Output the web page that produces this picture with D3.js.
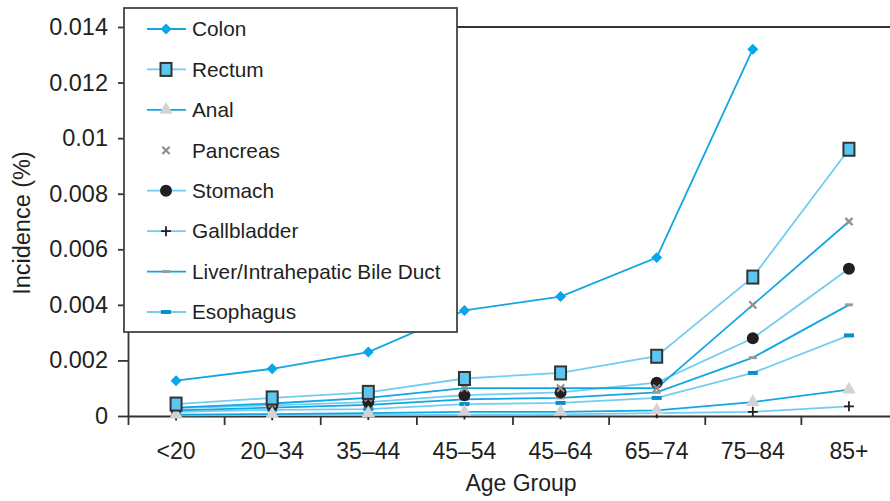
<!DOCTYPE html>
<html>
<head>
<meta charset="utf-8">
<script src="https://cdn.jsdelivr.net/npm/d3@7"></script>
<style>
  html, body { margin: 0; padding: 0; background: #fff; }
  svg { display: block; }
  text { font-family: "Liberation Sans", Arial, Helvetica, sans-serif; fill: #231f20; }
</style>
</head>
<body>
<svg id="chart" width="890" height="501"></svg>
<script>
// ---- data ----
const categories = ["<20", "20–34", "35–44", "45–54", "45–64", "65–74", "75–84", "85+"];
const yTickValues = [0, 0.002, 0.004, 0.006, 0.008, 0.01, 0.012, 0.014];
const yTickLabels = ["0", "0.002", "0.004", "0.006", "0.008", "0.01", "0.012", "0.014"];
const seriesNames = ["Colon", "Rectum", "Anal", "Pancreas", "Stomach", "Gallbladder", "Liver/Intrahepatic Bile Duct", "Esophagus"];
const colon       = [0.00127, 0.0017, 0.0023, 0.0038, 0.0043, 0.0057, 0.0132, null];
const rectum      = [0.00043, 0.00065, 0.00085, 0.00135, 0.00155, 0.00215, 0.0050, 0.0096];
const anal        = [0.00005, 0.00007, 0.0001, 0.00015, 0.00015, 0.0002, 0.0005, 0.00095];
const pancreas    = [0.0003, 0.00045, 0.00065, 0.001, 0.001, 0.001, 0.004, 0.007];
const stomach     = [0.00028, 0.00038, 0.0005, 0.00075, 0.00085, 0.0012, 0.0028, 0.0053];
const gallbladder = [0.00002, 0.00003, 0.00004, 0.00005, 0.00006, 0.0001, 0.00015, 0.00035];
const liver       = [0.0002, 0.0003, 0.0004, 0.0006, 0.00065, 0.00085, 0.0021, 0.004];
const esophagus   = [0.00015, 0.00022, 0.00025, 0.00043, 0.00047, 0.00065, 0.00155, 0.0029];
const xTitle = "Age Group";
const yTitle = "Incidence (%)";

// ---- styles ----
const STRONG = "#12a6e4", LIGHT = "#72cdf2";
const series = [
  { name: seriesNames[0], values: colon,       line: STRONG, marker: "diamond",  legendLine: true },
  { name: seriesNames[1], values: rectum,      line: LIGHT,  marker: "square",   legendLine: true },
  { name: seriesNames[2], values: anal,        line: STRONG, marker: "triangle", legendLine: true },
  { name: seriesNames[3], values: pancreas,    line: STRONG, marker: "x",        legendLine: false },
  { name: seriesNames[4], values: stomach,     line: LIGHT,  marker: "circle",   legendLine: true },
  { name: seriesNames[5], values: gallbladder, line: LIGHT,  marker: "plus",     legendLine: true },
  { name: seriesNames[6], values: liver,       line: STRONG, marker: "greydash", legendLine: true },
  { name: seriesNames[7], values: esophagus,   line: LIGHT,  marker: "bluedash", legendLine: true }
];

const svg = d3.select("#chart");
const pLeft = 128, pRight = 897, pTop = 27, pBottom = 416;

const x = d3.scaleBand().domain(categories).range([pLeft, pRight]);
const xb = d3.scaleLinear().domain([0, categories.length]).range([pLeft, pRight]);
const y = d3.scaleLinear().domain([0, 0.014]).range([pBottom, pTop]);

// top frame line
svg.append("line").attr("x1", pLeft).attr("x2", 890).attr("y1", y(0.014)).attr("y2", y(0.014))
  .attr("stroke", "#333").attr("stroke-width", 2);

// y axis
const yAxis = svg.append("g").attr("transform", `translate(${pLeft},0)`)
  .call(d3.axisLeft(y).tickValues(yTickValues).tickFormat((d, i) => yTickLabels[i]).tickSize(10).tickSizeOuter(0).tickPadding(10));
yAxis.selectAll("path, line").attr("stroke", "#333").attr("stroke-width", 1.8);
yAxis.selectAll("text").style("font-size", "23.5px").attr("fill", "#231f20");

// x axis boundary ticks
const xTicks = svg.append("g").attr("transform", `translate(0,${pBottom})`)
  .call(d3.axisBottom(xb).tickValues(d3.range(0, categories.length + 1)).tickFormat("").tickSize(9).tickSizeOuter(0));
xTicks.selectAll("path, line").attr("stroke", "#333").attr("stroke-width", 1.8);
// x labels
const xLab = svg.append("g").attr("transform", `translate(0,${pBottom})`)
  .call(d3.axisBottom(x).tickSize(0).tickPadding(27));
xLab.select("path").remove();
xLab.selectAll("text").style("font-size", "23px").attr("fill", "#231f20");

// axis titles
svg.append("text").attr("x", (pLeft + 890) / 2 + 12).attr("y", 491).attr("text-anchor", "middle")
  .style("font-size", "23px").text(xTitle);
svg.append("text").attr("transform", "translate(30,223) rotate(-90)").attr("text-anchor", "middle")
  .style("font-size", "23.5px").text(yTitle);

// markers
function drawMarker(g, type, cx, cy) {
  switch (type) {
    case "diamond":
      g.append("path").attr("d", d3.symbol(d3.symbolSquare, 60)())
        .attr("transform", `translate(${cx},${cy}) rotate(45)`).attr("fill", "#05a7ea"); break;
    case "square":
      g.append("rect").attr("x", cx - 5.5).attr("y", cy - 6.5).attr("width", 11).attr("height", 13)
        .attr("fill", "#5cc6f0").attr("stroke", "#333").attr("stroke-width", 2); break;
    case "triangle":
      g.append("path").attr("d", d3.symbol(d3.symbolTriangle, 80)())
        .attr("transform", `translate(${cx},${cy})`).attr("fill", "#d2d3d5"); break;
    case "x":
      g.append("path").attr("d", d3.symbol(d3.symbolX, 36)())
        .attr("transform", `translate(${cx},${cy})`).attr("stroke", "#8f8f8f").attr("stroke-width", 2.2).attr("fill", "none"); break;
    case "circle":
      g.append("circle").attr("cx", cx).attr("cy", cy).attr("r", 6).attr("fill", "#231f20"); break;
    case "plus":
      g.append("path").attr("d", `M${cx - 5},${cy}H${cx + 5}M${cx},${cy - 5}V${cy + 5}`)
        .attr("stroke", "#231f20").attr("stroke-width", 1.8); break;
    case "greydash":
      g.append("rect").attr("x", cx - 4).attr("y", cy - 1.5).attr("width", 8).attr("height", 3).attr("fill", "#9a9a9a"); break;
    case "bluedash":
      g.append("rect").attr("x", cx - 5).attr("y", cy - 2).attr("width", 10).attr("height", 4).attr("fill", "#0a8fcc"); break;
  }
}

// lines
const lineGen = d3.line().defined(d => d.v !== null).x(d => x(d.c) + x.bandwidth() / 2).y(d => y(d.v));
const linesG = svg.append("g");
const markersG = svg.append("g");
series.slice().reverse().forEach(s => {
  const pts = categories.map((c, i) => ({ c, v: s.values[i] }));
  linesG.append("path").datum(pts).attr("d", lineGen).attr("fill", "none")
    .attr("stroke", s.line).attr("stroke-width", 1.8);
});
series.slice().reverse().forEach(s => {
  categories.forEach((c, i) => {
    if (s.values[i] === null) return;
    drawMarker(markersG, s.marker, x(c) + x.bandwidth() / 2, y(s.values[i]));
  });
});

// legend
const lg = svg.append("g");
lg.append("rect").attr("x", 124).attr("y", 8).attr("width", 333).attr("height", 324)
  .attr("fill", "#fff").attr("stroke", "#444").attr("stroke-width", 1.8);
const rowY = d3.scaleLinear().domain([0, series.length - 1]).range([29, 312]);
series.forEach((s, i) => {
  const ry = rowY(i);
  if (s.legendLine) {
    lg.append("line").attr("x1", 147).attr("x2", 186).attr("y1", ry).attr("y2", ry)
      .attr("stroke", s.line).attr("stroke-width", 1.8);
  }
  drawMarker(lg, s.marker, 166, ry);
  lg.append("text").attr("x", 192).attr("y", ry).attr("dy", "0.35em")
    .style("font-size", "20.8px").text(s.name);
});
</script>
</body>
</html>
